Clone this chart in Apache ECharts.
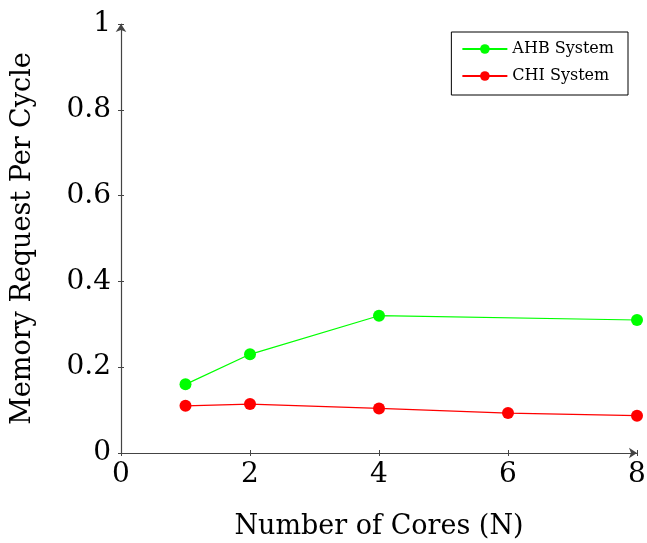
<!DOCTYPE html>
<html>
<head>
<meta charset="utf-8">
<script src="https://cdn.jsdelivr.net/npm/echarts@6/dist/echarts.min.js"></script>
<style>
html,body{margin:0;padding:0;background:#fff;}
#chart{width:647px;height:543px;}
</style>
</head>
<body>
<div id="chart"></div>
<script>
// Memory requests per cycle for each interconnect as cores are added
const ahbCores = [1, 2, 4, 8];
const ahbValues = [0.16, 0.23, 0.32, 0.31];
const chiCores = [1, 2, 4, 6, 8];
const chiValues = [0.11, 0.114, 0.104, 0.093, 0.087];
const seriesNames = ['AHB System', 'CHI System'];
const xTitle = 'Number of Cores (N)';
const yTitle = 'Memory Request Per Cycle';

const font = '"DejaVu Serif", "Liberation Serif", serif';
const axisColor = '#444';

const pairs = (xs, ys) => xs.map((x, i) => [x, ys[i]]);

const baseX = {
  type: 'value', min: 0, max: 8, interval: 2,
  splitLine: { show: false }
};
const baseY = {
  type: 'value', min: 0, max: 1, interval: 0.2,
  splitLine: { show: false }
};

const chart = echarts.init(document.getElementById('chart'));
chart.setOption({
  animation: false,
  backgroundColor: '#fff',
  grid: { left: 121, right: 10, top: 24, bottom: 90, containLabel: false, outerBoundsMode: 'none' },
  legend: {
    top: 32, right: 19,
    orient: 'vertical',
    backgroundColor: '#fff',
    borderColor: '#000', borderWidth: 1,
    padding: [8, 14, 10, 10],
    itemGap: 9,
    itemWidth: 45, itemHeight: 12,
    textStyle: { fontFamily: font, fontSize: 16, color: '#000', lineHeight: 18 },
    data: seriesNames
  },
  xAxis: [
    Object.assign({}, baseX, {
      position: 'bottom',
      name: xTitle, nameLocation: 'middle', nameGap: 60,
      nameTextStyle: { fontFamily: font, fontSize: 27, color: '#000' },
      axisLine: { show: true, lineStyle: { color: axisColor, width: 1.2 }, symbol: ['none', 'arrow'], symbolSize: [8, 8] },
      axisTick: { show: true, length: 3, lineStyle: { color: axisColor } },
      axisLabel: { fontFamily: font, fontSize: 28, color: '#000', margin: 8 }
    }),
    Object.assign({}, baseX, {
      position: 'bottom', offset: 0,
      axisLine: { show: false },
      axisTick: { show: true, inside: true, length: 3, lineStyle: { color: axisColor } },
      axisLabel: { show: false }
    })
  ],
  yAxis: [
    Object.assign({}, baseY, {
      position: 'left',
      name: yTitle, nameLocation: 'middle', nameGap: 85, nameRotate: 90,
      nameTextStyle: { fontFamily: font, fontSize: 27, color: '#000' },
      axisLine: { show: true, lineStyle: { color: axisColor, width: 1.2 }, symbol: ['none', 'arrow'], symbolSize: [8, 8] },
      axisTick: { show: true, length: 3, lineStyle: { color: axisColor } },
      axisLabel: { fontFamily: font, fontSize: 28, color: '#000', margin: 10,
        formatter: v => (v === 0 || v === 1) ? String(v) : v.toFixed(1) }
    }),
    Object.assign({}, baseY, {
      position: 'left', offset: 0,
      axisLine: { show: false },
      axisTick: { show: true, inside: true, length: 3, lineStyle: { color: axisColor } },
      axisLabel: { show: false }
    })
  ],
  series: [
    {
      name: seriesNames[0], type: 'line',
      data: pairs(ahbCores, ahbValues),
      symbol: 'circle', symbolSize: 12,
      itemStyle: { color: '#00ff00' },
      lineStyle: { color: '#00ff00', width: 1.2 }
    },
    {
      name: seriesNames[1], type: 'line',
      data: pairs(chiCores, chiValues),
      symbol: 'circle', symbolSize: 12,
      itemStyle: { color: '#ff0000' },
      lineStyle: { color: '#ff0000', width: 1.2 }
    }
  ]
});
</script>
</body>
</html>
